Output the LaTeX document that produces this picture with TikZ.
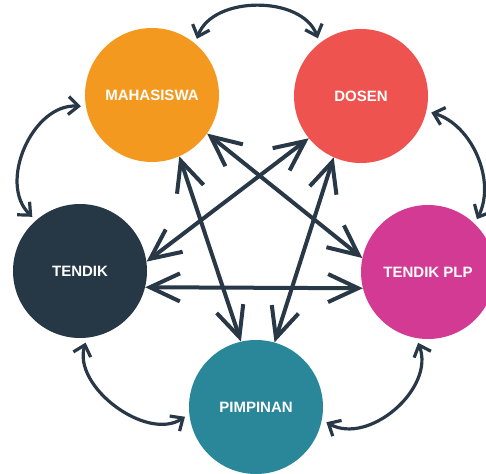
\documentclass[tikz,border=0pt]{standalone}
\usepackage{fontspec}
\setmainfont{Liberation Sans}
\usetikzlibrary{arrows.meta}

\definecolor{mahaorange}{HTML}{F4991F}
\definecolor{dosenred}{HTML}{EF534F}
\definecolor{tendiknavy}{HTML}{263746}
\definecolor{plppink}{HTML}{D33A93}
\definecolor{pimpteal}{HTML}{2A879A}
\definecolor{linknavy}{HTML}{283847}

\begin{document}
\begin{tikzpicture}[x=1pt, y=1pt,
    bubble/.style={circle, minimum size=134pt, inner sep=0pt,
      text=white, font=\bfseries\fontsize{15}{18}\selectfont},
    link/.style={draw=linknavy, line width=4pt,
      >={Straight Barb[length=30pt, width=28pt]}, <->},
    curvy/.style={draw=linknavy, line width=3.2pt,
      >={Straight Barb[length=10pt, width=18pt]}, <->,
      shorten <=5pt, shorten >=5pt}]

    \useasboundingbox (0, 0) rectangle (486, 473);

    \foreach \name/\px/\py/\col/\txt in {
        maha/152/378/mahaorange/MAHASISWA,
        dosen/361/377/dosenred/DOSEN,
        tendik/80/202/tendiknavy/TENDIK,
        plp/428/201/plppink/TENDIK PLP,
        pimp/256/66/pimpteal/PIMPINAN} {
      \node [bubble, fill=\col] (\name) at (\px, \py) {\txt};
    }

    % star of straight links
    \foreach \a/\b in {maha.-35/plp.168, dosen.219/tendik.8,
        maha.294/pimp.103, dosen.246/pimp.74, tendik.-14/plp.194} {
      \draw [link] (\a) -- (\b);
    }

    % outer ring of bent links
    \foreach \a/\b/\bend/\loose in {maha.50/dosen.128/70/1.05,
        dosen.-13/plp.46/50/1, plp.260/pimp.-11/70/1.1,
        pimp.186/tendik.-84/70/1.02, tendik.131/maha.190/70/1.1} {
      \draw [curvy] (\a) to [bend left=\bend, looseness=\loose] (\b);
    }

  \end{tikzpicture}
\end{document}
